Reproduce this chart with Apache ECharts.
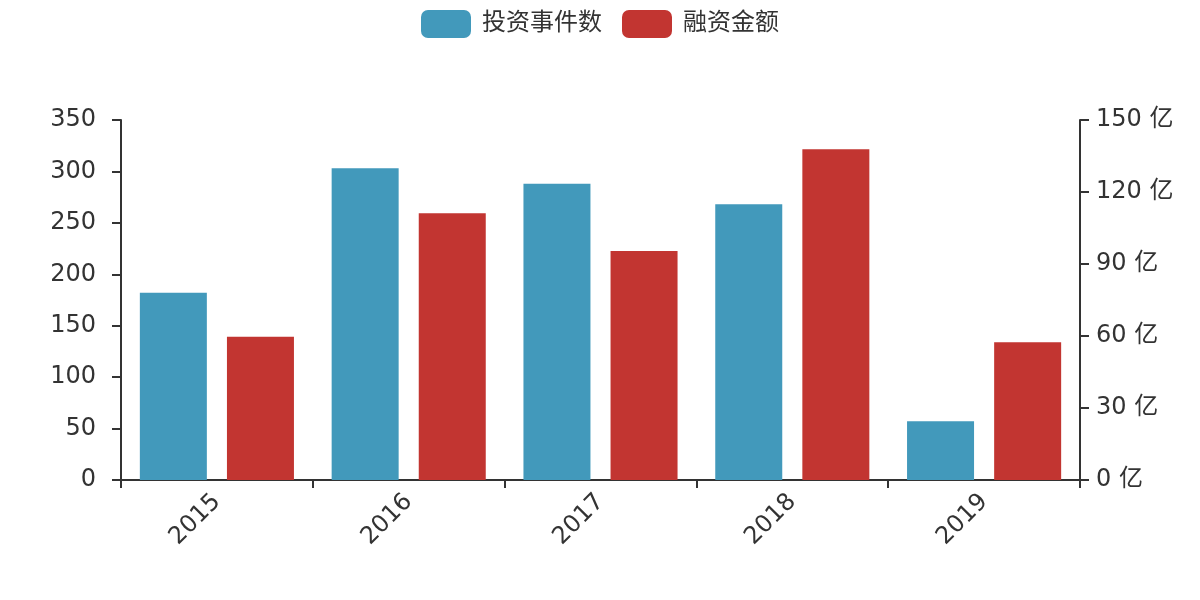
<!DOCTYPE html>
<html>
<head>
<meta charset="utf-8">
<script src="https://cdn.jsdelivr.net/npm/echarts@6/dist/echarts.min.js"></script>
<style>html,body{margin:0;padding:0;background:#fff;}#main{width:1200px;height:600px;}</style>
</head>
<body>
<div id="main"></div>
<script>
const years = ['2015', '2016', '2017', '2018', '2019'];
const investCount = [182, 303, 288, 268, 57];
const financeAmount = [59.7, 111.1, 95.4, 137.8, 57.4];
const leftTicks = { min: 0, max: 350, interval: 50 };
const rightTicks = { min: 0, max: 150, interval: 30 };

const font = 'DejaVu Sans, "Noto Sans CJK SC", sans-serif';
const axisColor = '#333';
const chart = echarts.init(document.getElementById('main'));
chart.setOption({
  animation: false,
  textStyle: { fontFamily: font },
  legend: {
    top: 5,
    left: 'center',
    itemWidth: 50,
    itemHeight: 28,
    itemGap: 20,
    textStyle: { fontSize: 24, color: '#333', fontFamily: font, padding: [0, 0, 0, 6] },
    data: ['投资事件数', '融资金额']
  },
  grid: { left: 121, right: 120, top: 120, bottom: 120 },
  xAxis: {
    type: 'category',
    data: years,
    axisLine: { lineStyle: { color: axisColor, width: 2 } },
    axisTick: { show: true, length: 8, lineStyle: { color: axisColor, width: 2 } },
    axisLabel: { rotate: 45, fontSize: 24, color: '#333', margin: 18, fontFamily: font }
  },
  yAxis: [
    {
      type: 'value',
      min: leftTicks.min, max: leftTicks.max, interval: leftTicks.interval,
      splitLine: { show: false },
      axisLine: { show: true, lineStyle: { color: axisColor, width: 2 } },
      axisTick: { show: true, length: 9, lineStyle: { color: axisColor, width: 2 } },
      axisLabel: { fontSize: 24, color: '#333', margin: 25, padding: [4, 0, 0, 0], fontFamily: font }
    },
    {
      type: 'value',
      position: 'right',
      min: rightTicks.min, max: rightTicks.max, interval: rightTicks.interval,
      splitLine: { show: false },
      axisLine: { show: true, lineStyle: { color: axisColor, width: 2 } },
      axisTick: { show: true, length: 9, lineStyle: { color: axisColor, width: 2 } },
      axisLabel: { fontSize: 24, color: '#333', margin: 16, padding: [4, 0, 0, 0], formatter: '{value} 亿', fontFamily: font }
    }
  ],
  series: [
    {
      name: '投资事件数',
      type: 'bar',
      yAxisIndex: 0,
      data: investCount,
      barWidth: 67,
      barGap: '30%',
      itemStyle: { color: '#4299bb' }
    },
    {
      name: '融资金额',
      type: 'bar',
      yAxisIndex: 1,
      data: financeAmount,
      barWidth: 67,
      barGap: '30%',
      itemStyle: { color: '#c23531' }
    }
  ]
});
</script>
</body>
</html>
